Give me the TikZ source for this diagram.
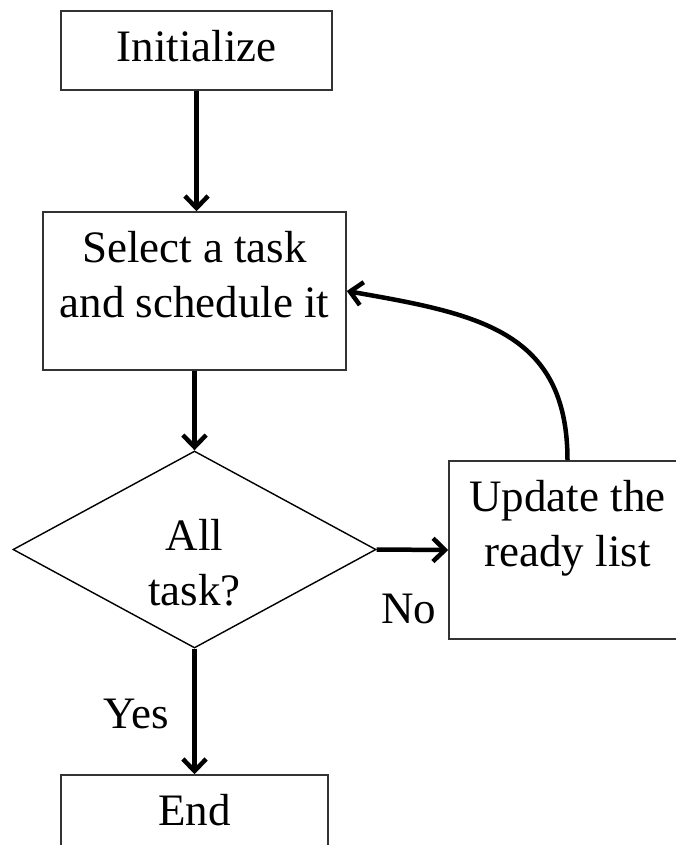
\documentclass[tikz,border=0pt]{standalone}
\usepackage{fontspec}
\setmainfont{Liberation Serif}
\usepackage{tikz}
\usetikzlibrary{shapes.geometric, arrows.meta, positioning}

\begin{document}
\begin{tikzpicture}[
        font=\fontsize{32}{39}\selectfont,
        % boxes of the flow chart, text set near the top edge
        flowbox/.style={
            rectangle, draw=black!80, line width=1.1pt
        },
        decbox/.style={
            diamond, draw=black, line width=1pt, inner sep=0pt,
            minimum width=9.075cm, minimum height=4.925cm
        },
        boxtext/.style={
            anchor=north, align=center, inner xsep=0pt, inner ysep=0.5cm
        },
        flowarrow/.style={
            line width=3.2pt, -{Straight Barb[length=0.3cm, width=0.58cm]}
        }
    ]

        % ==========================
        % PAGE (crops the cut boxes)
        % ==========================
        \clip (0, 0) rectangle (16.9, -21.125);

        % ==========================
        % NODES
        % ==========================
        \node[flowbox, minimum width=6.775cm, minimum height=1.975cm,
              label={[boxtext]north:Initialize}] (init) at (4.9125, -1.2625) {};
        \node[flowbox, minimum width=7.575cm, minimum height=3.95cm,
              label={[boxtext]north:{Select a task\\and schedule it}}] (select) at (4.8625, -7.275) {};
        \node[decbox,
              label={[align=center, yshift=-0.33cm]center:{All\\task?}}] (alltask) at (4.8625, -13.7375) {};
        \node[flowbox, minimum width=5.925cm, minimum height=4.45cm,
              label={[boxtext]north:{Update the\\ready list}}] (update) at (14.1875, -13.75) {};
        \node[flowbox, minimum width=6.675cm, minimum height=2.5cm,
              label={[boxtext]north:End}] (finish) at (4.8625, -20.625) {};

        % ==========================
        % CONNECTIONS
        % ==========================
        \draw[flowarrow] (init.south) -- (init.south |- select.north);
        \draw[flowarrow] (select.south) -- (alltask.north);
        \draw[flowarrow] (alltask.east) --
            node[pos=0.45, yshift=-1.47cm] {No} (update.west);
        \draw[flowarrow] (alltask.south) --
            node[pos=0.52, xshift=-1.45cm] {Yes} (finish.north);
        \draw[flowarrow] (update.north) to[out=90, in=-10, looseness=1.2] (select.east);

    \end{tikzpicture}
\end{document}
